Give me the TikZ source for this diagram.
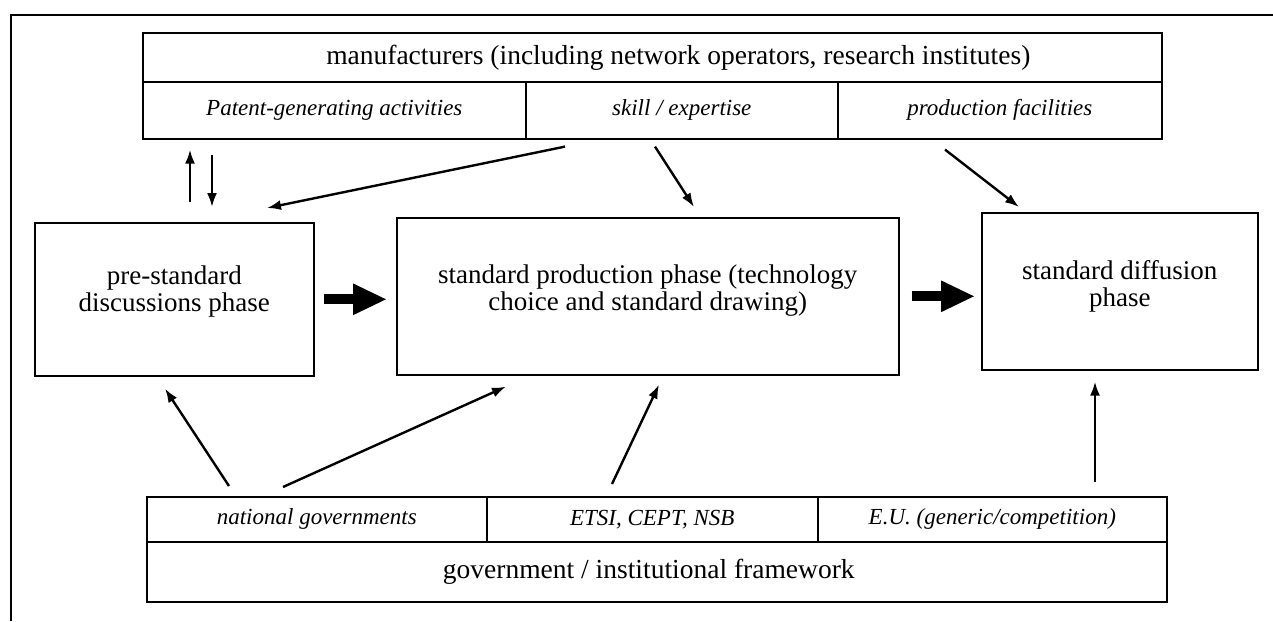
\documentclass[tikz,border=0pt]{standalone}
\usepackage{fontspec}
\setmainfont{Liberation Serif}
\usetikzlibrary{arrows.meta,calc}
\begin{document}
\begin{tikzpicture}[x=1pt,y=-1pt,
  cell/.style={draw, line width=1.6pt, anchor=north west, inner sep=0pt, align=center,
    font=\fontsize{27}{27}\selectfont},
  itcell/.style={cell, font=\fontsize{23}{25}\selectfont\itshape},
  phasetext/.style={font=\fontsize{27}{27}\selectfont, align=center, inner sep=0pt},
  arr/.style={-{Latex[length=14pt,width=10pt]}, line width=2.4pt},
  bigarr/.style={-{Triangle[length=34pt,width=29pt]}, line width=10pt}]
\useasboundingbox (0,0) rectangle (1273,621);
\fill[white] (0,0) rectangle (1273,621);
% frame
\draw[line width=2.2pt] (11,621) -- (11,15) -- (1273,15);
% top box
\node[cell, minimum width=1019pt, minimum height=49pt] (manu) at (142,32) {};
\node[font=\fontsize{27.5}{29}\selectfont, inner sep=0pt] (manutxt) at ($(manu.center)+(26,0)$)
  {manufacturers (including network operators, research institutes)};
\node[itcell, minimum width=383pt, minimum height=57pt] (patent) at (142,81) {Patent-generating activities};
\node[itcell, minimum width=312pt, minimum height=57pt] (skill) at (525,81) {skill / expertise};
\node[itcell, minimum width=324pt, minimum height=57pt] (prod) at (837,81) {production facilities};
% phases
\node[cell, minimum width=279pt, minimum height=153pt] (pre) at (34,222) {};
\node[phasetext] (pretxt) at ($(pre.center)+(0,-8)$) {pre-standard\\discussions phase};
\node[cell, minimum width=502pt, minimum height=157pt] (prodphase) at (396,217) {};
\node[phasetext] (prodtxt) at ($(prodphase.center)+(0,-6)$) {standard production phase (technology\\choice and standard drawing)};
\node[cell, minimum width=276pt, minimum height=157pt] (diff) at (981,212) {};
\node[phasetext] (difftxt) at ($(diff.center)+(0,-5)$) {standard diffusion\\phase};
% bottom box
\node[itcell, minimum width=340pt, minimum height=45pt] (natgov) at (146,496) {national governments};
\node[itcell, minimum width=331pt, minimum height=45pt] (etsi) at (486,496) {ETSI, CEPT, NSB};
\node[itcell, minimum width=349pt, minimum height=45pt] (eu) at (817,496) {E.U. (generic/competition)};
\node[cell, minimum width=1020pt, minimum height=60pt] (govfw) at (146,541) {};
\node[font=\fontsize{27.5}{29}\selectfont, inner sep=0pt] (govtxt) at ($(govfw.center)+(-8,0)$)
  {government / institutional framework};
% arrows top
\draw[arr] ($(pre.north west)+(156,-20)$) -- ($(patent.south west)+(48,10)$);
\draw[arr] ($(patent.south west)+(70,15)$) -- ($(pre.north west)+(178,-15)$);
\draw[arr] ($(skill.south west)+(40,7)$) -- ($(pre.north west)+(233,-14)$);
\draw[arr] ($(skill.south west)+(130,7)$) -- ($(prodphase.north west)+(298,-10)$);
\draw[arr] ($(prod.south west)+(108,10)$) -- ($(diff.north west)+(38,-5)$);
% thick arrows
\draw[bigarr] ($(pre.east)+(9,0)$) -- ($(prodphase.west |- pre.east)+(-9,0)$);
\draw[bigarr] ($(prodphase.east)+(12,0)$) -- ($(diff.west |- prodphase.east)+(-6,0)$);
% arrows bottom
\draw[arr] ($(natgov.north west)+(83,-10)$) -- ($(pre.south west)+(131,12)$);
\draw[arr] ($(natgov.north west)+(137,-9)$) -- ($(prodphase.south west)+(110,11)$);
\draw[arr] ($(etsi.north west)+(126,-12)$) -- ($(prodphase.south west)+(263,9)$);
\draw[arr] ($(eu.north west)+(278,-14)$) -- ($(diff.south west)+(114,11)$);
\end{tikzpicture}
\end{document}
